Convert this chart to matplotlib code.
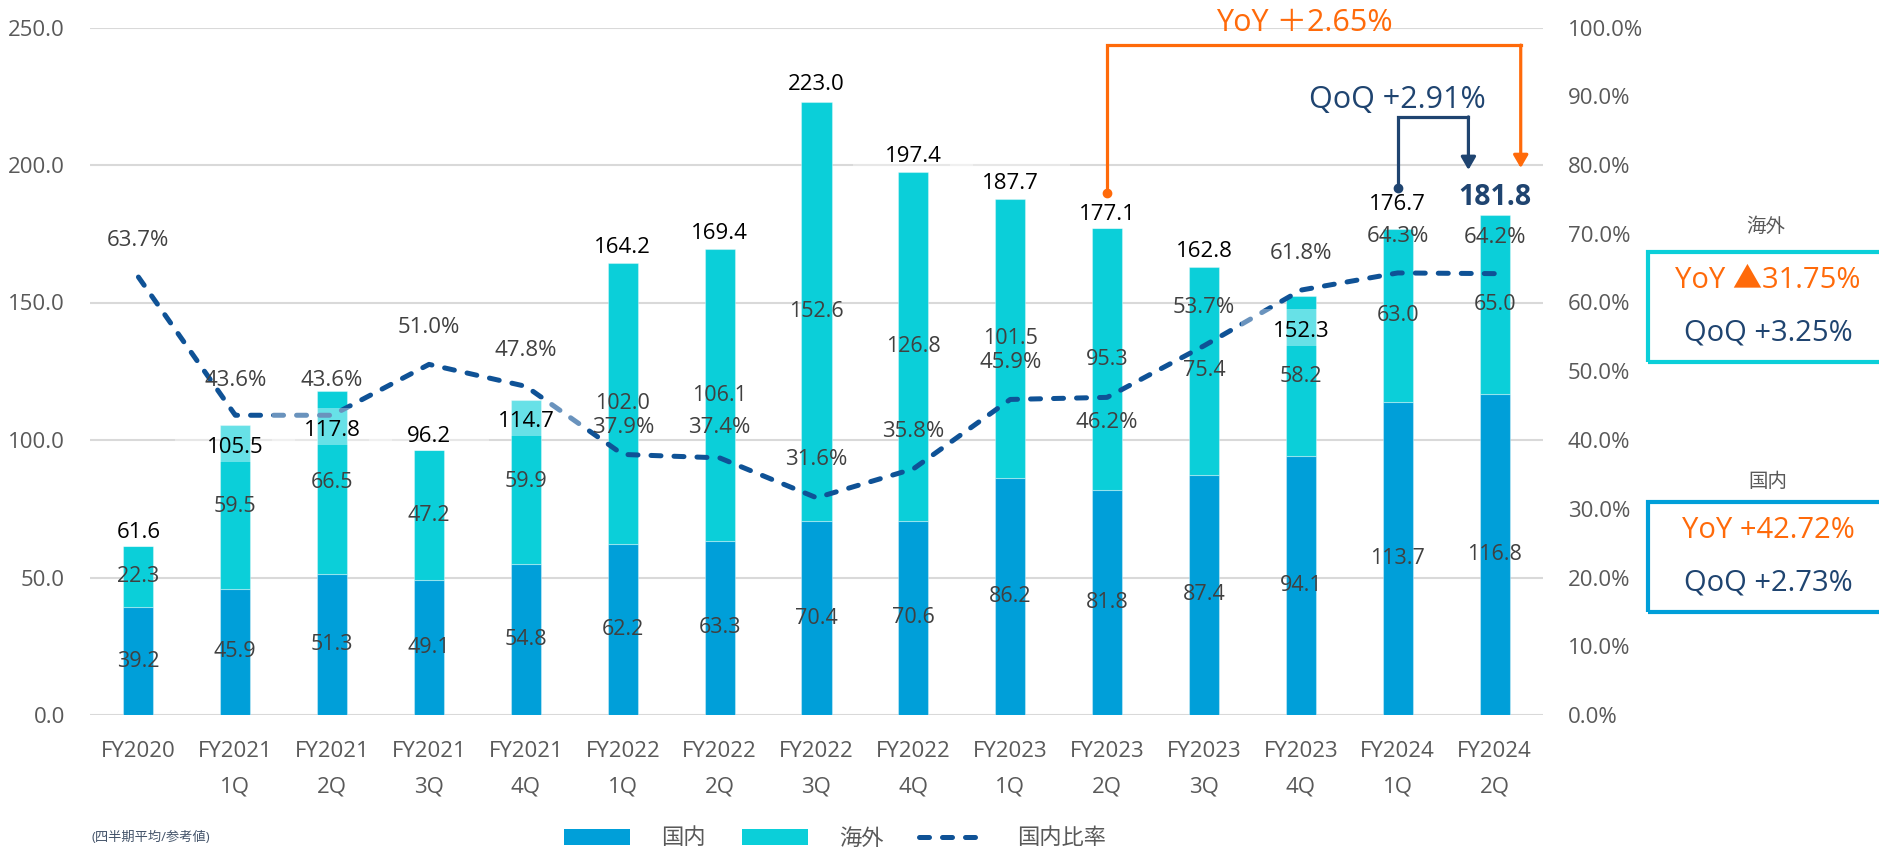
import numpy as np
import matplotlib
matplotlib.use('Agg')
import matplotlib.pyplot as plt
from matplotlib.patches import Rectangle, Patch
from matplotlib.lines import Line2D
from matplotlib.ticker import FuncFormatter, MultipleLocator

plt.rcParams['font.family'] = ['Open Sans', 'Noto Sans CJK JP', 'DejaVu Sans']

# ---------------- data ----------------
periods = ['FY2020', 'FY2021\n1Q', 'FY2021\n2Q', 'FY2021\n3Q', 'FY2021\n4Q',
           'FY2022\n1Q', 'FY2022\n2Q', 'FY2022\n3Q', 'FY2022\n4Q',
           'FY2023\n1Q', 'FY2023\n2Q', 'FY2023\n3Q', 'FY2023\n4Q',
           'FY2024\n1Q', 'FY2024\n2Q']
domestic = [39.2, 45.9, 51.3, 49.1, 54.8, 62.2, 63.3, 70.4, 70.6, 86.2, 81.8, 87.4, 94.1, 113.7, 116.8]
overseas = [22.3, 59.5, 66.5, 47.2, 59.9, 102.0, 106.1, 152.6, 126.8, 101.5, 95.3, 75.4, 58.2, 63.0, 65.0]
totals = [61.6, 105.5, 117.8, 96.2, 114.7, 164.2, 169.4, 223.0, 197.4, 187.7, 177.1, 162.8, 152.3, 176.7, 181.8]
ratio = [63.7, 43.6, 43.6, 51.0, 47.8, 37.9, 37.4, 31.6, 35.8, 45.9, 46.2, 53.7, 61.8, 64.3, 64.2]

yoy_text = 'YoY ＋2.65%'
qoq_text = 'QoQ +2.91%'
ovs_box = ['YoY ▲31.75%', 'QoQ +3.25%']
dom_box = ['YoY +42.72%', 'QoQ +2.73%']
legend_labels = ['国内', '海外', '国内比率']
footnote = '(四半期平均/参考値)'

# ---------------- label placement (pixels, positive = up) ----------------
ratio_off_px = [37, 35, 35, 37, 36, 27, 30, 38, 37, 37, -25, 38, 37, 36, 36]
total_off_px = [13, -23, -39, 14, -22, 16, 16, 17, 16, 15, 13, 16, -35, 25, 18]

# ---------------- style ----------------
C_DOM = '#009FD9'
C_OVS = '#0BCFD9'
C_LINE = '#0F5296'
C_ORANGE = '#FF6A0A'
C_NAVY = '#1F4470'
C_TICK = '#595959'
C_LBL = '#404040'
PX2PT = 72 / 100

fig = plt.figure(figsize=(18.79, 8.49), dpi=100)
ax = fig.add_axes([90 / 1879, 1 - 715 / 849, (1543 - 90) / 1879, 687.5 / 849])
ax2 = ax.twinx()

x = np.arange(len(periods))
bw = 0.31
ax.bar(x, domestic, bw, color=C_DOM, edgecolor=(1, 1, 1, 0.35), linewidth=0.8, zorder=2)
ax.bar(x, overseas, bw, bottom=domestic, color=C_OVS, edgecolor=(1, 1, 1, 0.35), linewidth=0.8, zorder=2)

ax.set_xlim(-0.5, len(periods) - 0.5)
ax.set_ylim(0, 250)
ax.yaxis.set_major_locator(MultipleLocator(50))
ax.yaxis.set_major_formatter(FuncFormatter(lambda v, p: f'{v:.1f}'))
ax.grid(axis='y', color='#D9D9D9', lw=1.5)
ax.set_axisbelow(True)
for a in (ax, ax2):
    for s in a.spines.values():
        s.set_visible(False)
ax.tick_params(axis='y', length=0, labelsize=16, labelcolor=C_TICK, pad=18)
ax.tick_params(axis='x', length=0, labelsize=16, labelcolor=C_TICK, pad=19)
ax.set_xticks(x)
ax.set_xticklabels(periods, linespacing=1.9, va='top')

ax2.set_ylim(0, 100)
ax2.yaxis.set_major_locator(MultipleLocator(10))
ax2.yaxis.set_major_formatter(FuncFormatter(lambda v, p: f'{v:.1f}%'))
ax2.tick_params(axis='y', length=0, labelsize=16, labelcolor=C_TICK, pad=18)

dash = (0, (2, 2.6))
ax2.plot(x, ratio, color=C_LINE, lw=3.6, linestyle=dash, dash_capstyle='round', zorder=3)

# segment labels
for i in range(len(x)):
    ax2.text(i, domestic[i] / 2, f'{domestic[i]:.1f}', transform=ax.transData,
             ha='center', va='center', fontsize=15.5, color=C_LBL, zorder=6)
    ax2.text(i, domestic[i] + overseas[i] / 2, f'{overseas[i]:.1f}', transform=ax.transData,
             ha='center', va='center', fontsize=15.5, color=C_LBL, zorder=6)

# ratio labels
for i in range(len(x)):
    ax2.annotate(f'{ratio[i]:.1f}%', (i, ratio[i]), xytext=(0, ratio_off_px[i] * PX2PT),
                 textcoords='offset points', ha='center', va='center',
                 fontsize=16, color=C_LBL, zorder=6)

# total labels with translucent white boxes
ppu = 687.5 / 250.0
for i in range(len(x)):
    yc = totals[i] + total_off_px[i] / ppu
    bc = totals[i] + (total_off_px[i] + 4) / ppu
    h = 37 / ppu
    if i < len(x) - 1:
        r = Rectangle((i - 0.62, bc - h / 2), 1.24, h, transform=ax.transData,
                      facecolor='white', alpha=0.38, edgecolor='none', zorder=4)
        ax2.add_patch(r)
        ax2.text(i, yc, f'{totals[i]:.1f}', transform=ax.transData, ha='center', va='center',
                 fontsize=16, color='black', zorder=6)
    else:
        ax2.text(i, yc, f'{totals[i]:.1f}', transform=ax.transData, ha='center', va='center',
                 fontsize=20.5, color=C_NAVY, fontweight='bold', zorder=6)

# YoY bracket (orange)
yo_start = totals[10] + 12.7
yo_top = 243.6
yo_right = 14.27
yo_tip = 198.9
ax2.plot([10, 10, yo_right], [yo_start, yo_top, yo_top], color=C_ORANGE, lw=2.3,
         solid_joinstyle='miter', zorder=7, clip_on=False, transform=ax.transData)
ax2.plot([10], [yo_start], 'o', color=C_ORANGE, ms=6, zorder=7, clip_on=False,
         transform=ax.transData)
ax2.annotate('', xy=(yo_right, yo_tip), xytext=(yo_right, yo_top), xycoords=ax.transData,
             textcoords=ax.transData,
             arrowprops=dict(arrowstyle='-|>,head_length=0.38,head_width=0.22', color=C_ORANGE,
                             lw=2.3, shrinkA=0, shrinkB=0, mutation_scale=20), zorder=7)
ax2.text(12.04, 251.6, yoy_text, transform=ax.transData, ha='center', va='center', fontsize=22,
         color=C_ORANGE, clip_on=False, zorder=7)

# QoQ bracket (navy)
q_start = totals[13] + 15
q_top = 217.5
q_right = 13.73
q_tip = 198.2
ax2.plot([13, 13, q_right], [q_start, q_top, q_top], color=C_NAVY, lw=2.3,
         solid_joinstyle='miter', zorder=7, transform=ax.transData)
ax2.plot([13], [q_start], 'o', color=C_NAVY, ms=6, zorder=7, transform=ax.transData)
ax2.annotate('', xy=(q_right, q_tip), xytext=(q_right, q_top), xycoords=ax.transData,
             textcoords=ax.transData,
             arrowprops=dict(arrowstyle='-|>,head_length=0.38,head_width=0.22', color=C_NAVY,
                             lw=2.3, shrinkA=0, shrinkB=0, mutation_scale=20), zorder=7)
ax2.text(13.0, 223.6, qoq_text, transform=ax.transData, ha='center', va='center', fontsize=22,
         color=C_NAVY, zorder=7)

# right-hand boxes
W, H = 1879, 849
def fx(px):
    return px / W
def fy(py):
    return 1 - py / H

fig.add_artist(Rectangle((fx(1648), fy(362)), fx(1900 - 1648), 110 / H, transform=fig.transFigure,
                         fill=False, edgecolor=C_OVS, lw=3))
fig.text(fx(1766), fy(227), legend_labels[1], ha='center', va='center', fontsize=14, color=C_TICK)
fig.text(fx(1768), fy(280), ovs_box[0], ha='center', va='center', fontsize=21, color=C_ORANGE)
fig.text(fx(1768), fy(333), ovs_box[1], ha='center', va='center', fontsize=21, color=C_NAVY)

fig.add_artist(Rectangle((fx(1648), fy(612)), fx(1900 - 1648), 110 / H, transform=fig.transFigure,
                         fill=False, edgecolor=C_DOM, lw=3))
fig.text(fx(1768), fy(482), legend_labels[0], ha='center', va='center', fontsize=14, color=C_TICK)
fig.text(fx(1768), fy(530), dom_box[0], ha='center', va='center', fontsize=21, color=C_ORANGE)
fig.text(fx(1768), fy(583), dom_box[1], ha='center', va='center', fontsize=21, color=C_NAVY)

# legend
handles = [Patch(facecolor=C_DOM, label=legend_labels[0]),
           Patch(facecolor=C_OVS, label=legend_labels[1]),
           Line2D([0], [0], color=C_LINE, lw=3.6, linestyle=dash, dash_capstyle='round',
                  label=legend_labels[2])]
fig.legend(handles=handles, loc='center', bbox_to_anchor=(fx(835), fy(839)), ncol=3,
           frameon=False, fontsize=16, handlelength=3, handleheight=0.7, handletextpad=1.4,
           columnspacing=1.6, labelcolor=C_TICK)

fig.text(fx(92), fy(837), footnote, ha='left', va='center', fontsize=9.5, color='#44546A')

fig.savefig('out.png', dpi=100)
